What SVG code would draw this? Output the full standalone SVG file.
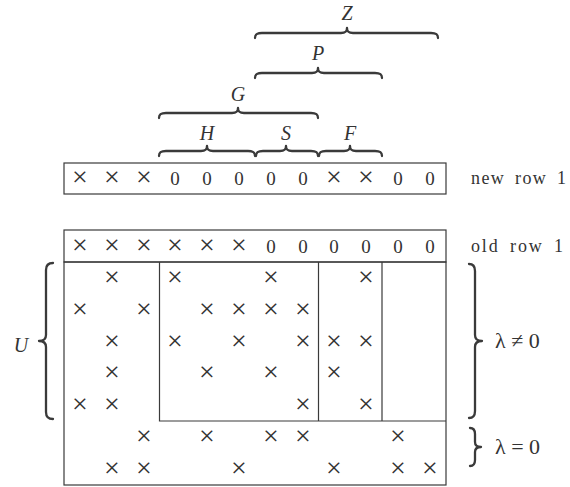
<svg xmlns="http://www.w3.org/2000/svg" width="570" height="487" viewBox="0 0 570 487">
<style>
.bg{fill:#fff}
.box{fill:none;stroke:#3a3a3a;stroke-width:1.2}
.br{fill:none;stroke:#3a3a3a;stroke-width:2.3;stroke-linecap:round;stroke-linejoin:round}
.x{font-family:"Liberation Serif",serif;font-size:28px;fill:#333;text-anchor:middle}
.z{font-family:"Liberation Serif",serif;font-size:19px;fill:#333;text-anchor:middle}
.lab{font-family:"Liberation Serif",serif;font-style:italic;font-size:20px;fill:#333;text-anchor:middle}
.side{font-family:"Liberation Serif",serif;font-size:18px;fill:#333;word-spacing:4px}
.lam{font-family:"Liberation Serif","DejaVu Serif",serif;font-size:22px;fill:#333}
</style>
<rect class="bg" x="0" y="0" width="570" height="487"/>

<g id="top-braces">
<path class="br" d="M255,38 C255,34 257,33 262,33 H341 C345,33 347,32 347,28 C347,32 349,33 353,33 H431 C436,33 438,34 438,38"/>
<path class="br" d="M255,78 C255,74 257,73 262,73 H312 C316,73 318,72 318,68 C318,72 320,73 324,73 H375 C380,73 382,74 382,78"/>
<path class="br" d="M159,118 C159,114 161,113 166,113 H232 C236,113 238,112 238,108 C238,112 240,113 244,113 H311 C316,113 318,114 318,118"/>
<path class="br" d="M159,156 C159,152 161,151 166,151 H201 C205,151 207,150 207,146 C207,150 209,151 213,151 H248 C253,151 255,152 255,156"/>
<path class="br" d="M256,156 C256,152 258,151 263,151 H280 C284,151 286,150 286,146 C286,150 288,151 292,151 H311 C316,151 318,152 318,156"/>
<path class="br" d="M319,156 C319,152 321,151 326,151 H344 C348,151 350,150 350,146 C350,150 352,151 356,151 H375 C380,151 382,152 382,156"/>
<text class="lab" x="347" y="20">Z</text>
<text class="lab" x="318" y="60">P</text>
<text class="lab" x="238" y="101">G</text>
<text class="lab" x="207" y="140">H</text>
<text class="lab" x="286" y="140">S</text>
<text class="lab" x="350" y="140">F</text>
</g>

<g id="new-row">
<rect class="box" x="64" y="163" width="382" height="31"/>
<text class="x" x="80" y="186">×</text>
<text class="x" x="112" y="186">×</text>
<text class="x" x="144" y="186">×</text>
<text class="z" x="175" y="185">0</text>
<text class="z" x="207" y="185">0</text>
<text class="z" x="239" y="185">0</text>
<text class="z" x="271" y="185">0</text>
<text class="z" x="303" y="185">0</text>
<text class="x" x="334" y="186">×</text>
<text class="x" x="366" y="186">×</text>
<text class="z" x="398" y="185">0</text>
<text class="z" x="430" y="185">0</text>
<text class="side" x="471" y="184" textLength="95" lengthAdjust="spacing">new row 1</text>
</g>

<g id="old-row">
<rect class="box" x="64" y="230" width="382" height="32"/>
<text class="x" x="80" y="253.5">×</text>
<text class="x" x="112" y="253.5">×</text>
<text class="x" x="144" y="253.5">×</text>
<text class="x" x="175" y="253.5">×</text>
<text class="x" x="207" y="253.5">×</text>
<text class="x" x="239" y="253.5">×</text>
<text class="z" x="271" y="252.5">0</text>
<text class="z" x="303" y="252.5">0</text>
<text class="z" x="334" y="252.5">0</text>
<text class="z" x="366" y="252.5">0</text>
<text class="z" x="398" y="252.5">0</text>
<text class="z" x="430" y="252.5">0</text>
<text class="side" x="471" y="252" textLength="92" lengthAdjust="spacing">old row 1</text>
</g>

<g id="matrix">
<rect class="box" x="64" y="262" width="382" height="223"/>
<path class="box" d="M159.5,262 V421 H446 M318.5,262 V421 M382,262 V421"/>
<!-- row 1 -->
<text class="x" x="112" y="285.5">×</text>
<text class="x" x="175" y="285.5">×</text>
<text class="x" x="271" y="285.5">×</text>
<text class="x" x="366" y="285.5">×</text>
<!-- row 2 -->
<text class="x" x="80" y="317.5">×</text>
<text class="x" x="144" y="317.5">×</text>
<text class="x" x="207" y="317.5">×</text>
<text class="x" x="239" y="317.5">×</text>
<text class="x" x="271" y="317.5">×</text>
<text class="x" x="303" y="317.5">×</text>
<!-- row 3 -->
<text class="x" x="112" y="349.5">×</text>
<text class="x" x="175" y="349.5">×</text>
<text class="x" x="239" y="349.5">×</text>
<text class="x" x="303" y="349.5">×</text>
<text class="x" x="334" y="349.5">×</text>
<text class="x" x="366" y="349.5">×</text>
<!-- row 4 -->
<text class="x" x="112" y="380.5">×</text>
<text class="x" x="207" y="380.5">×</text>
<text class="x" x="271" y="380.5">×</text>
<text class="x" x="334" y="380.5">×</text>
<!-- row 5 -->
<text class="x" x="80" y="412.5">×</text>
<text class="x" x="112" y="412.5">×</text>
<text class="x" x="303" y="412.5">×</text>
<text class="x" x="366" y="412.5">×</text>
<!-- row 6 -->
<text class="x" x="144" y="444.5">×</text>
<text class="x" x="207" y="444.5">×</text>
<text class="x" x="271" y="444.5">×</text>
<text class="x" x="303" y="444.5">×</text>
<text class="x" x="398" y="444.5">×</text>
<!-- row 7 -->
<text class="x" x="112" y="476.5">×</text>
<text class="x" x="144" y="476.5">×</text>
<text class="x" x="239" y="476.5">×</text>
<text class="x" x="334" y="476.5">×</text>
<text class="x" x="398" y="476.5">×</text>
<text class="x" x="430" y="476.5">×</text>
</g>

<g id="side-braces">
<path class="br" d="M53,263 C48,263 46,265 46,270 V335 C46,339 44,341 39,341 C44,341 46,343 46,347 V412 C46,417 48,419 53,419"/>
<text class="lab" x="21" y="352">U</text>
<path class="br" d="M469,264 C473,264 475,266 475,271 V335 C475,339 477,341 482,341 C477,341 475,343 475,347 V411 C475,416 473,418 469,418"/>
<text class="lam" x="495" y="348">λ ≠ 0</text>
<path class="br" d="M470,428 C473,428 475,430 475,434 V442 C475,445 477,447 481,447 C477,447 475,449 475,452 V460 C475,464 473,466 470,466"/>
<text class="lam" x="495" y="454">λ = 0</text>
</g>
</svg>
